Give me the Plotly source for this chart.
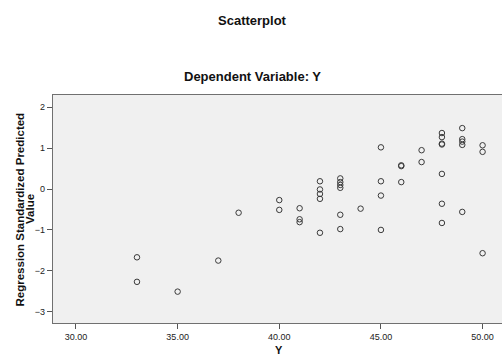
import plotly.graph_objects as go

# Data (Y vs Regression Standardized Predicted Value)
y_observed = [33, 33, 35, 37, 38, 40, 40, 41, 41, 41,
              42, 42, 42, 42, 42, 43, 43, 43, 43, 43, 43,
              44, 45, 45, 45, 45, 46, 46, 46, 47, 47,
              48, 48, 48, 48, 48, 48, 48, 49, 49, 49, 49, 49,
              50, 50, 50]
predicted_std = [-1.67, -2.27, -2.51, -1.75, -0.58, -0.27, -0.51, -0.47, -0.74, -0.81,
                 0.19, -0.01, -0.12, -0.24, -1.07, 0.26, 0.17, 0.10, 0.03, -0.63, -0.98,
                 -0.48, 1.02, 0.19, -0.16, -1.00, 0.58, 0.56, 0.17, 0.95, 0.66,
                 1.37, 1.27, 1.11, 1.09, 0.37, -0.36, -0.83, 1.49, 1.22, 1.16, 1.08, -0.56,
                 1.07, 0.91, -1.57]

x_ticks = [30, 35, 40, 45, 50]
y_ticks = [-3, -2, -1, 0, 1, 2]

title_text = "Scatterplot"
subtitle_text = "Dependent Variable: Y"
x_title = "Y"
y_title_lines = ["Regression Standardized Predicted", "Value"]

FONT = "Liberation Sans, Arial, sans-serif"

W, H = 502, 356
ML, MR, MT, MB = 53, 0, 95, 33
plot_w = W - ML - MR
plot_h = H - MT - MB


def px_x(px):
    return (px - ML) / plot_w


def px_y(py):
    return (H - MB - py) / plot_h


fig = go.Figure()
fig.add_trace(go.Scatter(
    x=y_observed, y=predicted_std, mode="markers",
    marker=dict(symbol="circle-open", size=5.5, color="#3a3a3a", line=dict(width=1, color="#3a3a3a")),
    showlegend=False, hoverinfo="x+y",
))

fig.update_layout(
    width=W, height=H,
    margin=dict(l=ML, r=MR, t=MT, b=MB, pad=0),
    paper_bgcolor="white", plot_bgcolor="#f0f0f0",
    font=dict(family=FONT, color="#222222", size=9),
    xaxis=dict(range=[28.87, 50.955], tickvals=x_ticks, tickformat=".2f",
               showgrid=False, zeroline=False, showline=True, mirror=True,
               linecolor="#707070", linewidth=1.3, ticks="outside", ticklen=5,
               tickcolor="#555555", tickfont=dict(size=9, family=FONT, color="#222222")),
    yaxis=dict(range=[-3.277, 2.30], tickvals=y_ticks, tickformat="d",
               showgrid=False, zeroline=False, showline=True,
               linecolor="#707070", linewidth=1.3, ticks="outside", ticklen=5,
               tickcolor="#555555", tickfont=dict(size=9, family=FONT, color="#222222")),
    annotations=[
        dict(text="<b>%s</b>" % title_text, xref="paper", yref="paper",
             x=px_x(252), y=px_y(20.5), xanchor="center", yanchor="middle",
             showarrow=False, font=dict(size=13, family=FONT, color="#111111")),
        dict(text="<b>%s</b>" % subtitle_text, xref="paper", yref="paper",
             x=px_x(252), y=px_y(76), xanchor="center", yanchor="middle",
             showarrow=False, font=dict(size=13, family=FONT, color="#111111")),
        dict(text="<b>%s</b>" % x_title, xref="paper", yref="paper",
             x=px_x(279), y=px_y(350), xanchor="center", yanchor="middle",
             showarrow=False, font=dict(size=11, family=FONT, color="#111111")),
        dict(text="<b>%s</b>" % y_title_lines[0], xref="paper", yref="paper",
             x=px_x(19), y=px_y(209.5), xanchor="center", yanchor="middle",
             textangle=-90, showarrow=False, font=dict(size=11.5, family=FONT, color="#111111")),
        dict(text="<b>%s</b>" % y_title_lines[1], xref="paper", yref="paper",
             x=px_x(29.5), y=px_y(209.5), xanchor="center", yanchor="middle",
             textangle=-90, showarrow=False, font=dict(size=11.5, family=FONT, color="#111111")),
    ],
)

fig.write_html(
    "out.html",
    config={"displayModeBar": False},
    post_script="document.body.style.margin='0';document.body.style.padding='0';"
                "document.body.style.overflow='hidden';",
)
